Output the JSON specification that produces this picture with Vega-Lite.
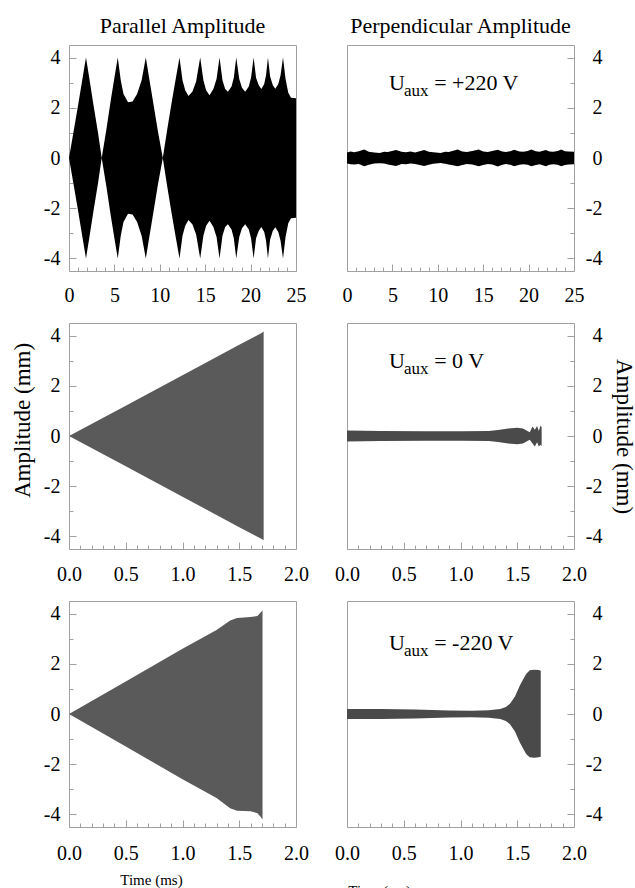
{
  "$schema": "https://vega.github.io/schema/vega-lite/v6.json",
  "padding": {"left": 10, "top": 14, "right": 5, "bottom": 5},
  "background": "white",
  "config": {
    "view": {"stroke": "#a0a0a0", "strokeWidth": 1},
    "font": "Liberation Serif",
    "axis": {"grid": false, "domain": false, "labelFont": "Liberation Serif", "labelFontSize": 20, "labelColor": "#000", "tickColor": "#a0a0a0", "tickWidth": 1, "titleFont": "Liberation Serif", "titleFontWeight": "normal", "titleColor": "#000", "labelOverlap": false, "labelFlush": false},
    "axisX": {"labelFont": "Liberation Serif", "titleFont": "Liberation Serif"},
    "axisY": {"labelFont": "Liberation Serif", "titleFont": "Liberation Serif"},
    "text": {"font": "Liberation Serif"},
    "title": {"font": "Liberation Serif", "fontSize": 22, "fontWeight": "normal", "color": "#000"}
  },
  "datasets": {
    "p1": [
      {"t": 0, "hi": 0, "lo": 0}, {"t": 0.5, "hi": 1.05, "lo": -1.05}, {"t": 1.0, "hi": 2.1, "lo": -2.1}, {"t": 1.5, "hi": 3.2, "lo": -3.2}, {"t": 1.87, "hi": 4.0, "lo": -4.0}, {"t": 2.25, "hi": 3.15, "lo": -3.15}, {"t": 2.7, "hi": 2.1, "lo": -2.1}, {"t": 3.2, "hi": 1.0, "lo": -1.0}, {"t": 3.6, "hi": 0, "lo": 0},
      {"t": 4.1, "hi": 1.1, "lo": -1.1}, {"t": 4.6, "hi": 2.3, "lo": -2.3}, {"t": 5.0, "hi": 3.2, "lo": -3.2}, {"t": 5.37, "hi": 4.0, "lo": -4.0}, {"t": 5.7, "hi": 3.1, "lo": -3.1}, {"t": 6.0, "hi": 2.55, "lo": -2.55}, {"t": 6.5, "hi": 2.22, "lo": -2.22}, {"t": 7.0, "hi": 2.25, "lo": -2.25}, {"t": 7.5, "hi": 2.55, "lo": -2.55}, {"t": 8.0, "hi": 3.1, "lo": -3.1}, {"t": 8.46, "hi": 4.0, "lo": -4.0}, {"t": 8.8, "hi": 3.25, "lo": -3.25}, {"t": 9.3, "hi": 2.15, "lo": -2.15}, {"t": 9.8, "hi": 1.05, "lo": -1.05}, {"t": 10.33, "hi": 0, "lo": 0},
      {"t": 10.8, "hi": 1.1, "lo": -1.1}, {"t": 11.3, "hi": 2.2, "lo": -2.2}, {"t": 11.8, "hi": 3.25, "lo": -3.25}, {"t": 12.17, "hi": 4.0, "lo": -4.0}, {"t": 12.5, "hi": 3.1, "lo": -3.1}, {"t": 12.8, "hi": 2.7, "lo": -2.7}, {"t": 13.16, "hi": 2.47, "lo": -2.47}, {"t": 13.6, "hi": 2.65, "lo": -2.65}, {"t": 14.0, "hi": 3.05, "lo": -3.05}, {"t": 14.45, "hi": 4.0, "lo": -4.0}, {"t": 14.8, "hi": 3.1, "lo": -3.1}, {"t": 15.1, "hi": 2.7, "lo": -2.7}, {"t": 15.48, "hi": 2.5, "lo": -2.5}, {"t": 15.9, "hi": 2.75, "lo": -2.75}, {"t": 16.25, "hi": 3.15, "lo": -3.15}, {"t": 16.58, "hi": 4.0, "lo": -4.0}, {"t": 16.9, "hi": 3.1, "lo": -3.1}, {"t": 17.2, "hi": 2.75, "lo": -2.75}, {"t": 17.5, "hi": 2.64, "lo": -2.64}, {"t": 17.9, "hi": 2.85, "lo": -2.85}, {"t": 18.15, "hi": 3.2, "lo": -3.2}, {"t": 18.42, "hi": 4.0, "lo": -4.0}, {"t": 18.75, "hi": 3.15, "lo": -3.15}, {"t": 19.05, "hi": 2.8, "lo": -2.8}, {"t": 19.4, "hi": 2.64, "lo": -2.64}, {"t": 19.8, "hi": 2.85, "lo": -2.85}, {"t": 20.05, "hi": 3.2, "lo": -3.2}, {"t": 20.33, "hi": 4.0, "lo": -4.0}, {"t": 20.6, "hi": 3.2, "lo": -3.2}, {"t": 20.9, "hi": 2.9, "lo": -2.9}, {"t": 21.18, "hi": 2.75, "lo": -2.75}, {"t": 21.5, "hi": 2.95, "lo": -2.95}, {"t": 21.7, "hi": 3.3, "lo": -3.3}, {"t": 21.91, "hi": 4.0, "lo": -4.0}, {"t": 22.15, "hi": 3.25, "lo": -3.25}, {"t": 22.45, "hi": 2.9, "lo": -2.9}, {"t": 22.72, "hi": 2.76, "lo": -2.76}, {"t": 23.05, "hi": 2.95, "lo": -2.95}, {"t": 23.3, "hi": 3.3, "lo": -3.3}, {"t": 23.57, "hi": 4.0, "lo": -4.0}, {"t": 23.85, "hi": 3.15, "lo": -3.15}, {"t": 24.15, "hi": 2.6, "lo": -2.6}, {"t": 24.45, "hi": 2.4, "lo": -2.4}, {"t": 25, "hi": 2.38, "lo": -2.38}
    ],
    "p2": [
      {"t": 0, "hi": 0.22, "lo": -0.22}, {"t": 0.4, "hi": 0.26, "lo": -0.25}, {"t": 0.8, "hi": 0.23, "lo": -0.26}, {"t": 1.3, "hi": 0.27, "lo": -0.24}, {"t": 1.9, "hi": 0.34, "lo": -0.33}, {"t": 2.4, "hi": 0.25, "lo": -0.27}, {"t": 3.0, "hi": 0.22, "lo": -0.22}, {"t": 3.6, "hi": 0.2, "lo": -0.21}, {"t": 4.1, "hi": 0.25, "lo": -0.22}, {"t": 4.5, "hi": 0.24, "lo": -0.26}, {"t": 5.4, "hi": 0.32, "lo": -0.32}, {"t": 6.0, "hi": 0.25, "lo": -0.24}, {"t": 6.5, "hi": 0.23, "lo": -0.25}, {"t": 7.0, "hi": 0.26, "lo": -0.22}, {"t": 7.5, "hi": 0.22, "lo": -0.24}, {"t": 8.5, "hi": 0.32, "lo": -0.32}, {"t": 9.0, "hi": 0.25, "lo": -0.27}, {"t": 9.5, "hi": 0.23, "lo": -0.23}, {"t": 10.3, "hi": 0.2, "lo": -0.2}, {"t": 10.8, "hi": 0.25, "lo": -0.23}, {"t": 11.2, "hi": 0.24, "lo": -0.26}, {"t": 12.2, "hi": 0.34, "lo": -0.33}, {"t": 12.7, "hi": 0.26, "lo": -0.28}, {"t": 13.2, "hi": 0.24, "lo": -0.24}, {"t": 13.8, "hi": 0.28, "lo": -0.26}, {"t": 14.5, "hi": 0.34, "lo": -0.33}, {"t": 15.0, "hi": 0.26, "lo": -0.28}, {"t": 15.5, "hi": 0.24, "lo": -0.24}, {"t": 16.0, "hi": 0.28, "lo": -0.26}, {"t": 16.6, "hi": 0.33, "lo": -0.34}, {"t": 17.1, "hi": 0.26, "lo": -0.27}, {"t": 17.5, "hi": 0.24, "lo": -0.24}, {"t": 18.0, "hi": 0.27, "lo": -0.27}, {"t": 18.4, "hi": 0.33, "lo": -0.33}, {"t": 19.0, "hi": 0.26, "lo": -0.27}, {"t": 19.4, "hi": 0.25, "lo": -0.25}, {"t": 19.9, "hi": 0.28, "lo": -0.27}, {"t": 20.3, "hi": 0.34, "lo": -0.33}, {"t": 20.8, "hi": 0.27, "lo": -0.28}, {"t": 21.2, "hi": 0.25, "lo": -0.25}, {"t": 21.9, "hi": 0.32, "lo": -0.33}, {"t": 22.3, "hi": 0.26, "lo": -0.27}, {"t": 22.7, "hi": 0.25, "lo": -0.25}, {"t": 23.2, "hi": 0.28, "lo": -0.27}, {"t": 23.6, "hi": 0.34, "lo": -0.33}, {"t": 24.0, "hi": 0.27, "lo": -0.28}, {"t": 24.4, "hi": 0.26, "lo": -0.26}, {"t": 25, "hi": 0.25, "lo": -0.25}
    ],
    "p3": [
      {"t": 0, "hi": 0, "lo": 0}, {"t": 0.5, "hi": 1.2, "lo": -1.2}, {"t": 1.0, "hi": 2.42, "lo": -2.42}, {"t": 1.5, "hi": 3.63, "lo": -3.63}, {"t": 1.69, "hi": 4.08, "lo": -4.08}, {"t": 1.715, "hi": 4.16, "lo": -4.15}
    ],
    "p4": [
      {"t": 0, "hi": 0.22, "lo": -0.22}, {"t": 0.3, "hi": 0.2, "lo": -0.2}, {"t": 0.7, "hi": 0.19, "lo": -0.19}, {"t": 1.0, "hi": 0.19, "lo": -0.19}, {"t": 1.25, "hi": 0.2, "lo": -0.2}, {"t": 1.33, "hi": 0.24, "lo": -0.24}, {"t": 1.42, "hi": 0.3, "lo": -0.3}, {"t": 1.5, "hi": 0.33, "lo": -0.33}, {"t": 1.55, "hi": 0.3, "lo": -0.3}, {"t": 1.59, "hi": 0.2, "lo": -0.2}, {"t": 1.61, "hi": 0.15, "lo": -0.15}, {"t": 1.635, "hi": 0.38, "lo": -0.3}, {"t": 1.655, "hi": 0.25, "lo": -0.42}, {"t": 1.675, "hi": 0.4, "lo": -0.25}, {"t": 1.69, "hi": 0.2, "lo": -0.42}, {"t": 1.705, "hi": 0.42, "lo": -0.35}, {"t": 1.715, "hi": 0.35, "lo": -0.4}
    ],
    "p5": [
      {"t": 0, "hi": 0, "lo": 0}, {"t": 0.5, "hi": 1.29, "lo": -1.29}, {"t": 1.0, "hi": 2.6, "lo": -2.6}, {"t": 1.3, "hi": 3.35, "lo": -3.35}, {"t": 1.42, "hi": 3.72, "lo": -3.75}, {"t": 1.48, "hi": 3.82, "lo": -3.85}, {"t": 1.6, "hi": 3.86, "lo": -3.87}, {"t": 1.66, "hi": 3.9, "lo": -3.95}, {"t": 1.69, "hi": 4.05, "lo": -4.1}, {"t": 1.705, "hi": 4.12, "lo": -4.2}
    ],
    "p6": [
      {"t": 0, "hi": 0.2, "lo": -0.2}, {"t": 0.3, "hi": 0.2, "lo": -0.2}, {"t": 0.6, "hi": 0.18, "lo": -0.18}, {"t": 0.9, "hi": 0.14, "lo": -0.14}, {"t": 1.1, "hi": 0.13, "lo": -0.13}, {"t": 1.25, "hi": 0.15, "lo": -0.15}, {"t": 1.35, "hi": 0.2, "lo": -0.2}, {"t": 1.4, "hi": 0.28, "lo": -0.28}, {"t": 1.436, "hi": 0.41, "lo": -0.41}, {"t": 1.48, "hi": 0.7, "lo": -0.7}, {"t": 1.524, "hi": 1.14, "lo": -1.14}, {"t": 1.555, "hi": 1.4, "lo": -1.4}, {"t": 1.58, "hi": 1.6, "lo": -1.6}, {"t": 1.61, "hi": 1.74, "lo": -1.72}, {"t": 1.65, "hi": 1.76, "lo": -1.74}, {"t": 1.69, "hi": 1.75, "lo": -1.72}, {"t": 1.707, "hi": 1.72, "lo": -1.7}
    ]
  },
  "columns": 2,
  "spacing": {"row": 52, "column": 51},
  "bounds": "flush",
  "concat": [
    {
      "width": 227, "height": 226,
      "title": {"text": "Parallel Amplitude", "fontSize": 22, "offset": 7},
      "layer": [
        {"data": {"name": "p1"}, "mark": {"type": "area", "color": "#000"},
         "encoding": {
           "x": {"field": "t", "type": "quantitative", "scale": {"domain": [0, 25], "nice": false, "zero": false}, "axis": {"orient": "bottom", "values": [0, 5, 10, 15, 20, 25], "ticks": false, "labelPadding": 14, "labelFont": "Liberation Serif", "labelExpr": "'' + datum.value", "title": null}},
           "y": {"field": "hi", "type": "quantitative", "scale": {"domain": [-4.5, 4.5], "nice": false, "zero": false}, "axis": {"orient": "left", "values": [-4, -2, 0, 2, 4], "ticks": false, "labelPadding": 9, "labelFont": "Liberation Serif", "labelExpr": "'' + datum.value", "title": null}},
           "y2": {"field": "lo"}
         }},
        {"data": {"values": [{}]}, "mark": {"type": "point", "opacity": 0},
         "encoding": {
           "x": {"datum": 0, "type": "quantitative", "axis": {"orient": "bottom", "values": [0, 5, 10, 15, 20, 25], "labels": false, "tickSize": -7, "title": null}},
           "y": {"datum": 0, "type": "quantitative", "axis": {"orient": "left", "values": [-4, -2, 0, 2, 4], "labels": false, "tickSize": -7, "title": null}}
         }},
        {"data": {"values": [{}]}, "mark": {"type": "point", "opacity": 0},
         "encoding": {
           "x": {"datum": 0, "type": "quantitative", "axis": {"orient": "bottom", "values": [1, 2, 3, 4, 6, 7, 8, 9, 11, 12, 13, 14, 16, 17, 18, 19, 21, 22, 23, 24], "labels": false, "tickSize": -4, "title": null}},
           "y": {"datum": 0, "type": "quantitative", "axis": {"orient": "left", "values": [-3, -1, 1, 3], "labels": false, "tickSize": -4, "title": null}}
         }}
      ],
      "resolve": {"axis": {"x": "independent", "y": "independent"}}
    },
    {
      "width": 227, "height": 226,
      "title": {"text": "Perpendicular Amplitude", "fontSize": 22, "offset": 7},
      "layer": [
        {"data": {"name": "p2"}, "mark": {"type": "area", "color": "#000"},
         "encoding": {
           "x": {"field": "t", "type": "quantitative", "scale": {"domain": [0, 25], "nice": false, "zero": false}, "axis": {"orient": "bottom", "values": [0, 5, 10, 15, 20, 25], "ticks": false, "labelPadding": 14, "labelFont": "Liberation Serif", "labelExpr": "'' + datum.value", "title": null}},
           "y": {"field": "hi", "type": "quantitative", "scale": {"domain": [-4.5, 4.5], "nice": false, "zero": false}, "axis": {"orient": "right", "values": [-4, -2, 0, 2, 4], "ticks": false, "labelAlign": "right", "labelPadding": 28, "labelFont": "Liberation Serif", "labelExpr": "'' + datum.value", "title": null}},
           "y2": {"field": "lo"}
         }},
        {"data": {"values": [{}]}, "mark": {"type": "point", "opacity": 0},
         "encoding": {
           "x": {"datum": 0, "type": "quantitative", "axis": {"orient": "bottom", "values": [0, 5, 10, 15, 20, 25], "labels": false, "tickSize": -7, "title": null}},
           "y": {"datum": 0, "type": "quantitative", "axis": {"orient": "right", "values": [-4, -2, 0, 2, 4], "labels": false, "tickSize": -7, "title": null}}
         }},
        {"data": {"values": [{}]}, "mark": {"type": "point", "opacity": 0},
         "encoding": {
           "x": {"datum": 0, "type": "quantitative", "axis": {"orient": "bottom", "values": [1, 2, 3, 4, 6, 7, 8, 9, 11, 12, 13, 14, 16, 17, 18, 19, 21, 22, 23, 24], "labels": false, "tickSize": -4, "title": null}},
           "y": {"datum": 0, "type": "quantitative", "axis": {"orient": "right", "values": [-3, -1, 1, 3], "labels": false, "tickSize": -4, "title": null}}
         }},
        {"data": {"values": [{}]}, "mark": {"type": "text", "text": "U", "font": "Liberation Serif", "fontSize": 22, "align": "left", "baseline": "alphabetic", "color": "#000"},
         "encoding": {"x": {"datum": 4.63, "type": "quantitative", "axis": null}, "y": {"datum": 2.71, "type": "quantitative", "axis": null}}},
        {"data": {"values": [{}]}, "mark": {"type": "text", "text": "aux", "font": "Liberation Serif", "fontSize": 17, "align": "left", "baseline": "alphabetic", "color": "#000"},
         "encoding": {"x": {"datum": 6.28, "type": "quantitative", "axis": null}, "y": {"datum": 2.47, "type": "quantitative", "axis": null}}},
        {"data": {"values": [{}]}, "mark": {"type": "text", "text": "= +220 V", "font": "Liberation Serif", "fontSize": 22, "align": "left", "baseline": "alphabetic", "color": "#000"},
         "encoding": {"x": {"datum": 9.6, "type": "quantitative", "axis": null}, "y": {"datum": 2.71, "type": "quantitative", "axis": null}}}
      ],
      "resolve": {"axis": {"x": "independent", "y": "independent"}}
    },
    {
      "width": 227, "height": 226,
      "layer": [
        {"data": {"name": "p3"}, "mark": {"type": "area", "color": "#5a5a5a"},
         "encoding": {
           "x": {"field": "t", "type": "quantitative", "scale": {"domain": [0, 2], "nice": false, "zero": false}, "axis": {"orient": "bottom", "values": [0, 0.5, 1, 1.5, 2], "ticks": false, "labelPadding": 15, "labelFont": "Liberation Serif", "labelExpr": "format(datum.value, '.1f')", "title": null}},
           "y": {"field": "hi", "type": "quantitative", "scale": {"domain": [-4.5, 4.5], "nice": false, "zero": false}, "axis": {"orient": "left", "values": [-4, -2, 0, 2, 4], "ticks": false, "labelPadding": 9, "labelFont": "Liberation Serif", "labelExpr": "'' + datum.value", "title": "Amplitude (mm)", "titleFont": "Liberation Serif", "titleFontSize": 23, "titleAngle": 270, "titleAlign": "center", "titleBaseline": "middle", "titleX": -47, "titleY": 97}},
           "y2": {"field": "lo"}
         }},
        {"data": {"values": [{}]}, "mark": {"type": "point", "opacity": 0},
         "encoding": {
           "x": {"datum": 0, "type": "quantitative", "axis": {"orient": "bottom", "values": [0, 0.5, 1, 1.5, 2], "labels": false, "tickSize": -7, "title": null}},
           "y": {"datum": 0, "type": "quantitative", "axis": {"orient": "left", "values": [-4, -2, 0, 2, 4], "labels": false, "tickSize": -7, "title": null}}
         }},
        {"data": {"values": [{}]}, "mark": {"type": "point", "opacity": 0},
         "encoding": {
           "x": {"datum": 0, "type": "quantitative", "axis": {"orient": "bottom", "values": [0.1, 0.2, 0.3, 0.4, 0.6, 0.7, 0.8, 0.9, 1.1, 1.2, 1.3, 1.4, 1.6, 1.7, 1.8, 1.9], "labels": false, "tickSize": -4, "title": null}},
           "y": {"datum": 0, "type": "quantitative", "axis": {"orient": "left", "values": [-3, -1, 1, 3], "labels": false, "tickSize": -4, "title": null}}
         }}
      ],
      "resolve": {"axis": {"x": "independent", "y": "independent"}}
    },
    {
      "width": 227, "height": 226,
      "layer": [
        {"data": {"name": "p4"}, "mark": {"type": "area", "color": "#4a4a4a"},
         "encoding": {
           "x": {"field": "t", "type": "quantitative", "scale": {"domain": [0, 2], "nice": false, "zero": false}, "axis": {"orient": "bottom", "values": [0, 0.5, 1, 1.5, 2], "ticks": false, "labelPadding": 15, "labelFont": "Liberation Serif", "labelExpr": "format(datum.value, '.1f')", "title": null}},
           "y": {"field": "hi", "type": "quantitative", "scale": {"domain": [-4.5, 4.5], "nice": false, "zero": false}, "axis": {"orient": "right", "values": [-4, -2, 0, 2, 4], "ticks": false, "labelAlign": "right", "labelPadding": 28, "labelFont": "Liberation Serif", "labelExpr": "'' + datum.value", "title": "Amplitude (mm)", "titleFont": "Liberation Serif", "titleFontSize": 23, "titleAngle": 90, "titleAlign": "center", "titleBaseline": "middle", "titleX": 49, "titleY": 113}},
           "y2": {"field": "lo"}
         }},
        {"data": {"values": [{}]}, "mark": {"type": "point", "opacity": 0},
         "encoding": {
           "x": {"datum": 0, "type": "quantitative", "axis": {"orient": "bottom", "values": [0, 0.5, 1, 1.5, 2], "labels": false, "tickSize": -7, "title": null}},
           "y": {"datum": 0, "type": "quantitative", "axis": {"orient": "right", "values": [-4, -2, 0, 2, 4], "labels": false, "tickSize": -7, "title": null}}
         }},
        {"data": {"values": [{}]}, "mark": {"type": "point", "opacity": 0},
         "encoding": {
           "x": {"datum": 0, "type": "quantitative", "axis": {"orient": "bottom", "values": [0.1, 0.2, 0.3, 0.4, 0.6, 0.7, 0.8, 0.9, 1.1, 1.2, 1.3, 1.4, 1.6, 1.7, 1.8, 1.9], "labels": false, "tickSize": -4, "title": null}},
           "y": {"datum": 0, "type": "quantitative", "axis": {"orient": "right", "values": [-3, -1, 1, 3], "labels": false, "tickSize": -4, "title": null}}
         }},
        {"data": {"values": [{}]}, "mark": {"type": "text", "text": "U", "font": "Liberation Serif", "fontSize": 22, "align": "left", "baseline": "alphabetic", "color": "#000"},
         "encoding": {"x": {"datum": 0.37, "type": "quantitative", "axis": null}, "y": {"datum": 2.71, "type": "quantitative", "axis": null}}},
        {"data": {"values": [{}]}, "mark": {"type": "text", "text": "aux", "font": "Liberation Serif", "fontSize": 17, "align": "left", "baseline": "alphabetic", "color": "#000"},
         "encoding": {"x": {"datum": 0.502, "type": "quantitative", "axis": null}, "y": {"datum": 2.47, "type": "quantitative", "axis": null}}},
        {"data": {"values": [{}]}, "mark": {"type": "text", "text": "= 0 V", "font": "Liberation Serif", "fontSize": 22, "align": "left", "baseline": "alphabetic", "color": "#000"},
         "encoding": {"x": {"datum": 0.768, "type": "quantitative", "axis": null}, "y": {"datum": 2.71, "type": "quantitative", "axis": null}}}
      ],
      "resolve": {"axis": {"x": "independent", "y": "independent"}}
    },
    {
      "width": 227, "height": 226,
      "layer": [
        {"data": {"name": "p5"}, "mark": {"type": "area", "color": "#5a5a5a"},
         "encoding": {
           "x": {"field": "t", "type": "quantitative", "scale": {"domain": [0, 2], "nice": false, "zero": false}, "axis": {"orient": "bottom", "values": [0, 0.5, 1, 1.5, 2], "ticks": false, "labelPadding": 16, "labelFont": "Liberation Serif", "labelExpr": "format(datum.value, '.1f')", "title": "Time (ms)", "titleFont": "Liberation Serif", "titleFontSize": 15, "titleAlign": "center", "titleBaseline": "alphabetic", "titleX": 82, "titleY": 57}},
           "y": {"field": "hi", "type": "quantitative", "scale": {"domain": [-4.5, 4.5], "nice": false, "zero": false}, "axis": {"orient": "left", "values": [-4, -2, 0, 2, 4], "ticks": false, "labelPadding": 9, "labelFont": "Liberation Serif", "labelExpr": "'' + datum.value", "title": null}},
           "y2": {"field": "lo"}
         }},
        {"data": {"values": [{}]}, "mark": {"type": "point", "opacity": 0},
         "encoding": {
           "x": {"datum": 0, "type": "quantitative", "axis": {"orient": "bottom", "values": [0, 0.5, 1, 1.5, 2], "labels": false, "tickSize": -7, "title": null}},
           "y": {"datum": 0, "type": "quantitative", "axis": {"orient": "left", "values": [-4, -2, 0, 2, 4], "labels": false, "tickSize": -7, "title": null}}
         }},
        {"data": {"values": [{}]}, "mark": {"type": "point", "opacity": 0},
         "encoding": {
           "x": {"datum": 0, "type": "quantitative", "axis": {"orient": "bottom", "values": [0.1, 0.2, 0.3, 0.4, 0.6, 0.7, 0.8, 0.9, 1.1, 1.2, 1.3, 1.4, 1.6, 1.7, 1.8, 1.9], "labels": false, "tickSize": -4, "title": null}},
           "y": {"datum": 0, "type": "quantitative", "axis": {"orient": "left", "values": [-3, -1, 1, 3], "labels": false, "tickSize": -4, "title": null}}
         }}
      ],
      "resolve": {"axis": {"x": "independent", "y": "independent"}}
    },
    {
      "width": 227, "height": 226,
      "layer": [
        {"data": {"name": "p6"}, "mark": {"type": "area", "color": "#4a4a4a"},
         "encoding": {
           "x": {"field": "t", "type": "quantitative", "scale": {"domain": [0, 2], "nice": false, "zero": false}, "axis": {"orient": "bottom", "values": [0, 0.5, 1, 1.5, 2], "ticks": false, "labelPadding": 16, "labelFont": "Liberation Serif", "labelExpr": "format(datum.value, '.1f')", "title": "Time (ms)", "titleFont": "Liberation Serif", "titleFontSize": 15, "titleAlign": "center", "titleBaseline": "alphabetic", "titleX": 32, "titleY": 68}},
           "y": {"field": "hi", "type": "quantitative", "scale": {"domain": [-4.5, 4.5], "nice": false, "zero": false}, "axis": {"orient": "right", "values": [-4, -2, 0, 2, 4], "ticks": false, "labelAlign": "right", "labelPadding": 28, "labelFont": "Liberation Serif", "labelExpr": "'' + datum.value", "title": null}},
           "y2": {"field": "lo"}
         }},
        {"data": {"values": [{}]}, "mark": {"type": "point", "opacity": 0},
         "encoding": {
           "x": {"datum": 0, "type": "quantitative", "axis": {"orient": "bottom", "values": [0, 0.5, 1, 1.5, 2], "labels": false, "tickSize": -7, "title": null}},
           "y": {"datum": 0, "type": "quantitative", "axis": {"orient": "right", "values": [-4, -2, 0, 2, 4], "labels": false, "tickSize": -7, "title": null}}
         }},
        {"data": {"values": [{}]}, "mark": {"type": "point", "opacity": 0},
         "encoding": {
           "x": {"datum": 0, "type": "quantitative", "axis": {"orient": "bottom", "values": [0.1, 0.2, 0.3, 0.4, 0.6, 0.7, 0.8, 0.9, 1.1, 1.2, 1.3, 1.4, 1.6, 1.7, 1.8, 1.9], "labels": false, "tickSize": -4, "title": null}},
           "y": {"datum": 0, "type": "quantitative", "axis": {"orient": "right", "values": [-3, -1, 1, 3], "labels": false, "tickSize": -4, "title": null}}
         }},
        {"data": {"values": [{}]}, "mark": {"type": "text", "text": "U", "font": "Liberation Serif", "fontSize": 22, "align": "left", "baseline": "alphabetic", "color": "#000"},
         "encoding": {"x": {"datum": 0.37, "type": "quantitative", "axis": null}, "y": {"datum": 2.55, "type": "quantitative", "axis": null}}},
        {"data": {"values": [{}]}, "mark": {"type": "text", "text": "aux", "font": "Liberation Serif", "fontSize": 17, "align": "left", "baseline": "alphabetic", "color": "#000"},
         "encoding": {"x": {"datum": 0.502, "type": "quantitative", "axis": null}, "y": {"datum": 2.31, "type": "quantitative", "axis": null}}},
        {"data": {"values": [{}]}, "mark": {"type": "text", "text": "= -220 V", "font": "Liberation Serif", "fontSize": 22, "align": "left", "baseline": "alphabetic", "color": "#000"},
         "encoding": {"x": {"datum": 0.768, "type": "quantitative", "axis": null}, "y": {"datum": 2.55, "type": "quantitative", "axis": null}}}
      ],
      "resolve": {"axis": {"x": "independent", "y": "independent"}}
    }
  ]
}
